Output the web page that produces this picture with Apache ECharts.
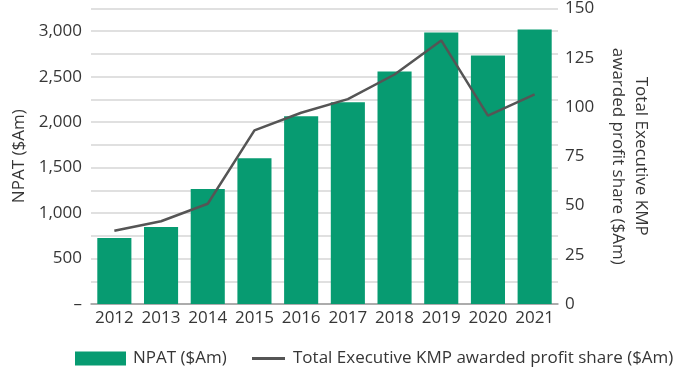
<!DOCTYPE html>
<html>
<head>
<meta charset="utf-8">
<script src="https://cdn.jsdelivr.net/npm/echarts@6/dist/echarts.min.js"></script>
<style>
  html, body { margin: 0; padding: 0; background: #fff; }
  #chart { width: 690px; height: 372px; }
</style>
</head>
<body>
<div id="chart"></div>
<script>
// Financial years
const years = ['2012', '2013', '2014', '2015', '2016', '2017', '2018', '2019', '2020', '2021'];
// Net profit after tax, $A millions
const npat = [727, 848, 1264, 1604, 2065, 2218, 2558, 2986, 2734, 3019];
// Total executive KMP awarded profit share, $A millions
const kmpShare = [37.2, 42, 50.9, 88.1, 97.1, 104, 116.5, 133.8, 95.6, 106.4];

const npatName = 'NPAT ($Am)';
const kmpName = 'Total Executive KMP awarded profit share ($Am)';

const FONT = 'Open Sans';
const FS = 17;
const TEXT = '#363636';
const GREEN = '#079b71';
const LINE = '#555555';

const chart = echarts.init(document.getElementById('chart'), null, { renderer: 'canvas' });

chart.setOption({
  animation: false,
  textStyle: { fontFamily: FONT, color: TEXT },
  grid: { left: 91, right: 132, top: 8, bottom: 68, containLabel: false },
  legend: [
    {
      data: [{ name: npatName, icon: 'rect' }],
      left: 70, top: 345,
      itemWidth: 51, itemHeight: 14,
      textStyle: { fontFamily: FONT, fontSize: FS, color: TEXT, padding: [0, 0, 0, 2] },
      selectedMode: false
    },
    {
      data: [{ name: kmpName, icon: 'rect', itemStyle: { color: LINE } }],
      left: 247, top: 345,
      itemWidth: 33, itemHeight: 3,
      textStyle: { fontFamily: FONT, fontSize: FS, color: TEXT, padding: [0, 0, 0, 3] },
      selectedMode: false
    }
  ],
  xAxis: {
    type: 'category',
    data: years,
    axisLine: { lineStyle: { color: '#9a9a9a', width: 1.5 } },
    axisTick: { show: false },
    axisLabel: { fontFamily: FONT, fontSize: FS, color: TEXT, margin: 6, interval: 0 }
  },
  yAxis: [
    {
      type: 'value',
      min: 0, max: 3250, interval: 250,
      name: 'NPAT ($Am)',
      nameLocation: 'middle',
      nameGap: 62,
      nameRotate: 90,
      nameTextStyle: { fontFamily: FONT, fontSize: FS, color: TEXT },
      axisLine: { show: false },
      axisTick: { show: false },
      axisLabel: {
        fontFamily: FONT, fontSize: FS, color: TEXT, margin: 9,
        padding: [4, 0, 0, 0],
        formatter: function (v) {
          if (v === 0) return '–';
          if (v % 500 !== 0 || v > 3000) return '';
          return v.toLocaleString('en-US');
        }
      },
      splitLine: { lineStyle: { color: '#d6d6d6', width: 1.5 } }
    },
    {
      type: 'value',
      min: 0, max: 150, interval: 25,
      name: 'Total Executive KMP\nawarded profit share ($Am)',
      nameLocation: 'middle',
      nameGap: 48,
      nameRotate: -90,
      nameTextStyle: { fontFamily: FONT, fontSize: FS, color: TEXT, lineHeight: 23 },
      axisLine: { show: false },
      axisTick: { show: false },
      axisLabel: { fontFamily: FONT, fontSize: FS, color: TEXT, margin: 7, padding: [8, 0, 0, 0] },
      splitLine: { show: false }
    }
  ],
  series: [
    {
      name: npatName,
      type: 'bar',
      data: npat,
      yAxisIndex: 0,
      barCategoryGap: '27%',
      itemStyle: { color: GREEN }
    },
    {
      name: kmpName,
      type: 'line',
      data: kmpShare,
      yAxisIndex: 1,
      symbol: 'none',
      lineStyle: { color: LINE, width: 2.5 },
      itemStyle: { color: LINE }
    }
  ]
});
</script>
</body>
</html>
